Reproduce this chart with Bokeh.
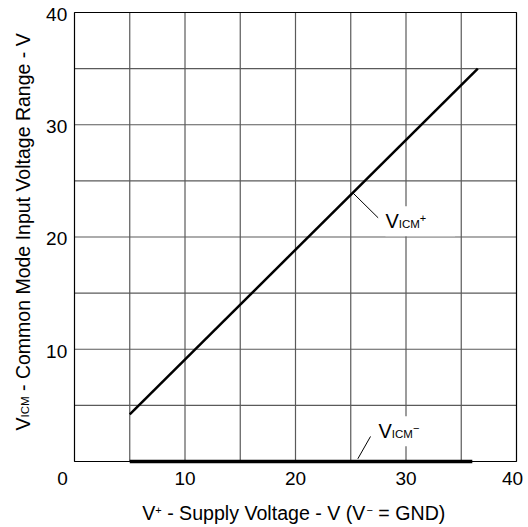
from bokeh.plotting import figure
from bokeh.models import Label, Range1d
from bokeh.embed import file_html
from bokeh.resources import INLINE
import math

# ---------------- data ----------------
supply_plus = [5.0, 36.5]          # V+ (V)
vicm_plus = [4.2, 35.0]            # VICM+ (V)
supply_minus = [5.0, 36.0]         # V+ (V)
vicm_minus = [0.0, 0.0]            # VICM- (V)

grid_ticks = [0, 5, 10, 15, 20, 25, 30, 35, 40]
x_tick_vals = [0, 10, 20, 30, 40]
x_tick_text = ["0", "10", "20", "30", "40"]
y_tick_vals = [10, 20, 30, 40]
y_tick_text = ["10", "20", "30", "40"]

# annotation anchors (data units)
lead_plus_x = [25.13, 27.48]
lead_plus_y = [23.99, 21.71]
lead_minus_x = [25.64, 26.79]
lead_minus_y = [0.24, 2.23]
label_plus_pos = (28.14, 20.87)
label_minus_pos = (27.51, 2.16)

FONT = "Liberation Sans"
BASE_FIX = 0.3   # empirical baseline correction (em)

# Arial/Liberation Sans advance widths (1/1000 em)
W = {' ': 278, '-': 333, '+': 584, '\u2212': 584, '=': 584, '(': 333, ')': 333,
     'A': 667, 'C': 722, 'D': 722, 'G': 778, 'I': 278, 'M': 833, 'N': 722,
     'R': 722, 'S': 667, 'V': 667,
     'a': 556, 'd': 556, 'e': 556, 'g': 556, 'l': 222, 'm': 833, 'n': 556,
     'o': 556, 'p': 556, 't': 278, 'u': 556, 'y': 500}


def tw(s, size):
    return sum(W.get(c, 556) for c in s) / 1000.0 * size


# layout (pixels): canvas and the plotting box inside it
CW, CH = 528, 527
BOX_L, BOX_R, BOX_T, BOX_B = 74, 516, 12, 461
x0, x1 = grid_ticks[0], grid_ticks[-1]
y0, y1 = grid_ticks[0], grid_ticks[-1]
sx = (BOX_R - BOX_L) / (x1 - x0)
sy = (BOX_B - BOX_T) / (y1 - y0)
xr = Range1d(x0 - BOX_L / sx, x1 + (CW - BOX_R) / sx)
yr = Range1d(y0 - (CH - BOX_B) / sy, y1 + BOX_T / sy)

p = figure(width=CW, height=CH, x_range=xr, y_range=yr,
           output_backend="svg", toolbar_location=None,
           min_border=0, min_border_left=0, min_border_right=0,
           min_border_top=0, min_border_bottom=0)
p.xaxis.visible = False
p.yaxis.visible = False
p.xgrid.visible = False
p.ygrid.visible = False
p.outline_line_color = None
p.background_fill_color = "white"
p.border_fill_color = "white"

# grid
inner = grid_ticks[1:-1]
GRID = "#5a5a5a"
p.segment(x0=inner, y0=[y0] * len(inner), x1=inner, y1=[y1] * len(inner),
          line_color=GRID, line_width=1.2)
p.segment(x0=[x0] * len(inner), y0=inner, x1=[x1] * len(inner), y1=inner,
          line_color=GRID, line_width=1.2)
# plot box
p.quad(left=[x0], right=[x1], bottom=[y0], top=[y1], fill_color=None,
       line_color="black", line_width=1.2)

# curves
p.line(supply_plus, vicm_plus, line_color="black", line_width=2.5)
p.line(supply_minus, vicm_minus, line_color="black", line_width=3.5)

# leader lines
p.line(lead_plus_x, lead_plus_y, line_color="black", line_width=1)
p.line(lead_minus_x, lead_minus_y, line_color="black", line_width=1)

TICK_SIZE = 19
# tick labels
for v, t in zip(x_tick_vals, x_tick_text):
    xo = 0
    if v == x_tick_vals[0]:
        xo = -12
    elif v == x_tick_vals[-1]:
        xo = -4
    p.add_layout(Label(x=v, y=y0, text=t, x_offset=xo, y_offset=-22.3 + BASE_FIX * TICK_SIZE,
                       text_align="center", text_baseline="alphabetic",
                       text_font=FONT, text_font_size=f"{TICK_SIZE}px", text_color="black"))
for v, t in zip(y_tick_vals, y_tick_text):
    p.add_layout(Label(x=x0, y=v, text=t, x_offset=-7.3, y_offset=-7.5 + BASE_FIX * TICK_SIZE,
                       text_align="right", text_baseline="alphabetic",
                       text_font=FONT, text_font_size=f"{TICK_SIZE}px", text_color="black"))


def split_lead(text):
    s = text.lstrip(" ")
    return s, len(text) - len(s)


def rich_screen(pieces, px, py, vertical=False):
    off = 0.0
    for text, size, rise in pieces:
        s, nlead = split_lead(text)
        off += nlead * tw(" ", size)
        r = rise + BASE_FIX * size
        if vertical:
            lab = Label(x=px - r, y=py + off, x_units="screen", y_units="screen",
                        text=s, angle=math.pi / 2, text_align="left",
                        text_baseline="alphabetic", text_font=FONT,
                        text_font_size=f"{size}px", text_color="black")
        else:
            lab = Label(x=px + off, y=py + r, x_units="screen", y_units="screen",
                        text=s, text_align="left", text_baseline="alphabetic",
                        text_font=FONT, text_font_size=f"{size}px", text_color="black")
        p.add_layout(lab)
        off += tw(s, size)


# axis titles (screen units: from canvas left / bottom)
rich_screen([("V", 19.6, 0), ("+", 11, 6), (" - Supply Voltage - V (V", 19.6, 0),
             ("\u2212", 11, 6), (" = GND)", 19.6, 0)], 141.7, CH - 518.3)
rich_screen([("V", 19.5, 0), ("ICM", 11.5, 0),
             (" - Common Mode Input Voltage Range - V", 19.5, 0)], 28.3, CH - 430, vertical=True)


def curve_label(pos, sign):
    x, y = pos
    p.add_layout(Label(x=x, y=y, y_offset=BASE_FIX * 20, text="VICM" + sign, text_font=FONT,
                       text_font_size="20px", text_color="white",
                       background_fill_color="white", padding=4,
                       text_baseline="alphabetic"))
    off = 0.0
    for text, size, rise in [("V", 20, 0), ("ICM", 11.5, 0), (sign, 11, 6)]:
        p.add_layout(Label(x=x, y=y, x_offset=off, y_offset=rise + BASE_FIX * size, text=text,
                           text_align="left", text_baseline="alphabetic",
                           text_font=FONT, text_font_size=f"{size}px", text_color="black"))
        off += tw(text, size)


curve_label(label_plus_pos, "+")
curve_label(label_minus_pos, "\u2212")

with open("out.html", "w") as f:
    f.write(file_html(p, INLINE))
